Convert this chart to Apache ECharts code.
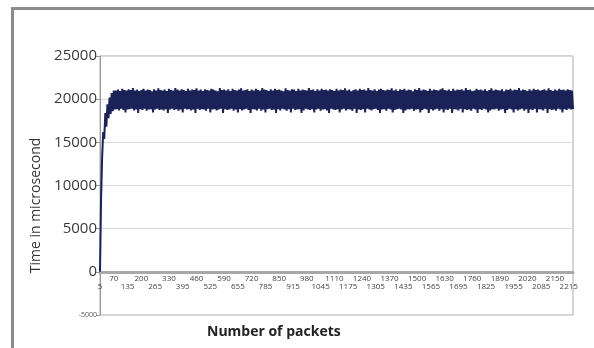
<!DOCTYPE html>
<html>
<head>
<meta charset="utf-8">
<script src="https://cdn.jsdelivr.net/npm/echarts@6/dist/echarts.min.js"></script>
<style>
html,body{margin:0;padding:0;background:#fff;overflow:hidden;}
#frame{position:absolute;left:11px;top:7px;width:600px;height:360px;border-top:3px solid #8c8c8c;border-left:3px solid #8c8c8c;box-sizing:border-box;}
#chart{position:absolute;left:0;top:0;width:594px;height:348px;}
</style>
</head>
<body>
<div id="frame"></div>
<div id="chart"></div>
<script>
// Packet numbers on the category axis (every 5th packet, starting at 5)
const packets = Array.from({length: 447}, (_, i) => 5 + 5 * i);

// Time in microseconds
const timeValues = [
  0, 8400, 13200, 16200, 15400, 18400, 16800, 19400, 17800, 20200, 18300, 20700, 18600, 21000,
  18800,21000,18850,21100,18700,20950,18900,21200,18750,21050,18450,21000,18800,21150,18850,21050,18900,21300,18700,21000,
  18800,21100,18400,20950,18850,21050,18750,21200,18900,21000,18650,21100,18800,21050,18850,20900,18450,21150,18800,21000,
  18900,21250,18750,21050,18800,21000,18700,21100,18850,20950,18400,21200,18800,21050,18900,21000,18750,21300,18850,21100,
  18650,21000,18800,21150,18450,21050,18900,20950,18800,21200,18850,21000,18700,21100,18800,21050,18400,21250,18900,21000,
  18750,21100,18850,20950,18800,21150,18650,21050,18900,21000,18450,21200,18800,21100,18850,21000,18700,20900,18800,21300,
  18900,21050,18400,21100,18850,21000,18750,21150,18800,20950,18900,21200,18650,21050,18800,21000,18450,21100,18850,21250,
  18700,21000,18800,21050,18900,21150,18750,20950,18400,21100,18850,21000,18800,21200,18700,21050,18900,21000,18650,21300,
  18800,21100,18450,21050,18850,20950,18900,21150,18750,21000,18800,21200,18400,21050,18850,21100,18700,21000,18900,20900,
  18800,21250,18650,21050,18850,21000,18450,21150,18900,21100,18750,20950,18800,21200,18850,21000,18400,21100,18700,21050,
  18900,21000,18800,21300,18750,21050,18850,21100,18450,20950,18800,21150,18900,21000,18650,21200,18800,21050,18850,21100,
  18700,21000,18400,21150,18900,21050,18800,20950,18750,21200,18850,21000,18450,21100,18800,21050,18900,21250,18700,21000,
  18850,21100,18800,20900,18650,21050,18900,21150,18400,21000,18800,21200,18750,21050,18850,21100,18450,21000,18900,21300,
  18800,21050,18700,21000,18850,21150,18900,20950,18750,21100,18400,21200,18800,21050,18850,21000,18650,21100,18900,21050,
  18800,21250,18450,21000,18750,21100,18850,20950,18900,21150,18800,21050,18400,21200,18700,21000,18850,21100,18800,21050,
  18900,20900,18650,21150,18800,21050,18850,21300,18450,21000,18750,21100,18900,21050,18800,20950,18400,21200,18850,21000,
  18700,21100,18800,21050,18900,21000,18650,21150,18850,21250,18450,21050,18800,21000,18750,21100,18900,20950,18400,21200,
  18850,21000,18800,21100,18700,21050,18900,21150,18450,21000,18850,21300,18750,21050,18800,21100,18650,20950,18900,21000,
  18800,21200,18400,21050,18850,21100,18750,21000,18900,21150,18800,20950,18450,21050,18700,21250,18850,21000,18800,21100,
  18900,21050,18650,21000,18800,21150,18850,20900,18400,21100,18750,21050,18900,21200,18800,21000,18450,21100,18850,21050,
  18700,21300,18800,21000,18900,21100,18650,21050,18850,20950,18400,21150,18800,21000,18750,21200,18900,21050,18450,21100,
  18850,21000,18800,21050,18700,21150,18900,21000,18400,21250,18850,21050,18750,20950,18800,21100,18650,21000,18900,21200,
  18800,21050,18450,21100,18850,21000,18750,21150,18900,21050,18800,21000,18850
];

// Y tick values
const yTicks = [-5000, 0, 5000, 10000, 15000, 20000, 25000];

const chart = echarts.init(document.getElementById('chart'), null, {renderer: 'canvas'});
chart.setOption({
  animation: false,
  backgroundColor: 'transparent',
  textStyle: {fontFamily: 'Open Sans'},
  title: {
    text: 'Number of packets',
    left: 207, top: 325,
    padding: 0,
    textStyle: {fontSize: 14, fontWeight: 'bold', color: '#222', fontFamily: 'Open Sans'}
  },
  grid: {
    left: 100, right: 21, top: 56, bottom: 33,
    show: true, borderColor: '#aaaaaa', borderWidth: 1
  },
  xAxis: {
    type: 'category',
    data: packets,
    boundaryGap: false,
    offset: -43,
    axisLine: {onZero: false, lineStyle: {color: '#a8a8a8', width: 3}},
    axisTick: {show: false},
    splitLine: {show: false},
    axisLabel: {
      interval: 12,
      margin: 3,
      fontSize: 8,
      lineHeight: 7.5,
      color: '#444',
      hideOverlap: false,
      showMinLabel: true,
      showMaxLabel: true,
      formatter: function (val, idx) {
        if (idx % 13 !== 0) return '';
        return (Math.round(idx / 13) % 2 === 0) ? '\n' + val : String(val);
      }
    }
  },
  yAxis: {
    type: 'value',
    min: yTicks[0], max: yTicks[yTicks.length - 1], interval: 5000,
    name: 'Time in microsecond',
    nameLocation: 'middle',
    nameGap: 54,
    nameTextStyle: {fontSize: 14, color: '#333', padding: [0, 40, 0, 0]},
    axisLine: {show: true, lineStyle: {color: '#999', width: 1}},
    axisTick: {show: true, length: 4, lineStyle: {color: '#999'}},
    splitLine: {lineStyle: {color: '#d9d9d9', width: 1}},
    axisLabel: {
      margin: 3,
      fontSize: 15,
      color: '#3a3a3a',
      formatter: function (v) { return v === yTicks[0] ? '{s|' + v + '}' : String(v); },
      rich: {s: {fontSize: 7, color: '#555'}}
    }
  },
  series: [{
    type: 'line',
    data: timeValues,
    symbol: 'none',
    lineStyle: {color: '#1b2258', width: 2},
    itemStyle: {color: '#1b2258'}
  }]
});
</script>
</body>
</html>
